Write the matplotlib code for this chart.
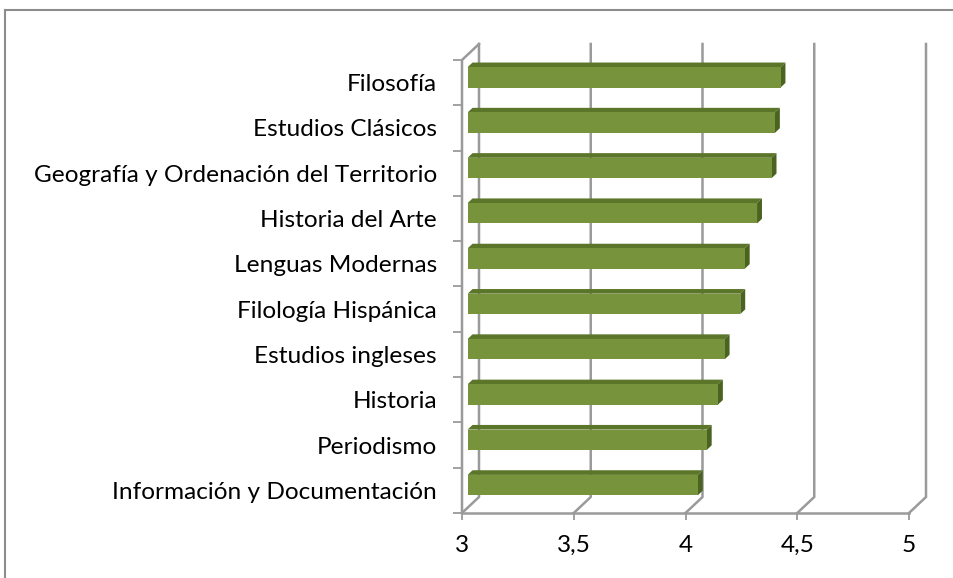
import numpy as np
import matplotlib
matplotlib.use("Agg")
import matplotlib.pyplot as plt
from matplotlib.patches import Polygon
from matplotlib.lines import Line2D

plt.rcParams["font.family"] = ["Lato", "DejaVu Sans"]

# ---- data (bottom -> top) ----
carreras = ["Información y Documentación", "Periodismo", "Historia", "Estudios ingleses",
            "Filología Hispánica", "Lenguas Modernas", "Historia del Arte",
            "Geografía y Ordenación del Territorio", "Estudios Clásicos", "Filosofía"]
valores = np.array([4.03, 4.07, 4.12, 4.15, 4.22, 4.24, 4.295, 4.36, 4.375, 4.40])
xticks = [3, 3.5, 4, 4.5, 5]
xticklabels = ["3", "3,5", "4", "4,5", "5"]

FRONT, TOP, SIDE = "#77933c", "#5b7629", "#4a6320"
GRID = "#9a9a9a"
W, H = 954, 578

fig = plt.figure(figsize=(W / 100, H / 100), dpi=100)
# axes spans the front plane plus the depth offset
ax = fig.add_axes([462 / W, 1 - 513 / H, (926 - 462) / W, (513 - 44) / H])
DX, DY = 0.076, 0.353        # 3-D depth offset in data units
ax.set_xlim(3, 5 + DX)
ax.set_ylim(-0.5, 9.5 + DY)
for s in ax.spines.values():
    s.set_visible(False)

# floor, back wall gridlines
y0 = -0.5
for t in xticks:
    ax.plot([t, t + DX, t + DX], [y0, y0 + DY, 9.5 + DY], color=GRID, lw=1.8,
            solid_joinstyle="miter", clip_on=False, zorder=1)
ax.plot([3, 5], [y0, y0], color=GRID, lw=1.8, clip_on=False, zorder=1)
# left wall
ax.plot([3, 3, 3 + DX], [y0, 9.5, 9.5 + DY], color=GRID, lw=1.8, clip_on=False, zorder=1)

# bars with fake 3-D faces
d0, d1 = 0.33, 0.62
h = 0.45
ypos = np.arange(len(carreras))
ax.barh(ypos + d0 * DY, valores - 3, left=3 + d0 * DX, height=h, color=FRONT, zorder=3)
for y, v in zip(ypos, valores):
    yb, yt = y + d0 * DY - h / 2, y + d0 * DY + h / 2
    xl, xr = 3 + d0 * DX, v + d0 * DX
    ox, oy = (d1 - d0) * DX, (d1 - d0) * DY
    ax.add_patch(Polygon([(xl, yt), (xr, yt), (xr + ox, yt + oy), (xl + ox, yt + oy)],
                         closed=True, color=TOP, lw=0, zorder=2))
    ax.add_patch(Polygon([(xr, yb), (xr + ox, yb + oy), (xr + ox, yt + oy), (xr, yt)],
                         closed=True, color=SIDE, lw=0, zorder=2))

# ticks & labels
ax.set_xticks(xticks)
ax.set_xticklabels(xticklabels)
ax.set_yticks(ypos)
ax.set_yticklabels(carreras)
ax.set_yticks(np.arange(-0.5, 10, 1), minor=True)
ax.tick_params(axis="y", which="major", length=0, pad=18)
ax.tick_params(axis="y", which="minor", length=6.5, width=1.3, color=GRID)
ax.tick_params(axis="x", which="major", length=5, width=1.3, color=GRID, pad=11)

# fit font size so the labels span roughly what the reference shows
fs = 16
for lab in ax.get_yticklabels() + ax.get_xticklabels():
    lab.set_fontsize(fs)
    lab.set_color("#000000")
fig.canvas.draw()
r = fig.canvas.get_renderer()
wmax = max(l.get_window_extent(r).width for l in ax.get_yticklabels())
fs = fs * 405 / wmax
for lab in ax.get_yticklabels() + ax.get_xticklabels():
    lab.set_fontsize(fs)

# outer chart frame (extends past the image)
fig.add_artist(Line2D([5 / W, 5 / W], [0, 1 - 10 / H], color="#8c8c8c", lw=1.5))
fig.add_artist(Line2D([5 / W, 1], [1 - 10 / H, 1 - 10 / H], color="#8c8c8c", lw=1.5))

fig.savefig("out.png", dpi=100)
